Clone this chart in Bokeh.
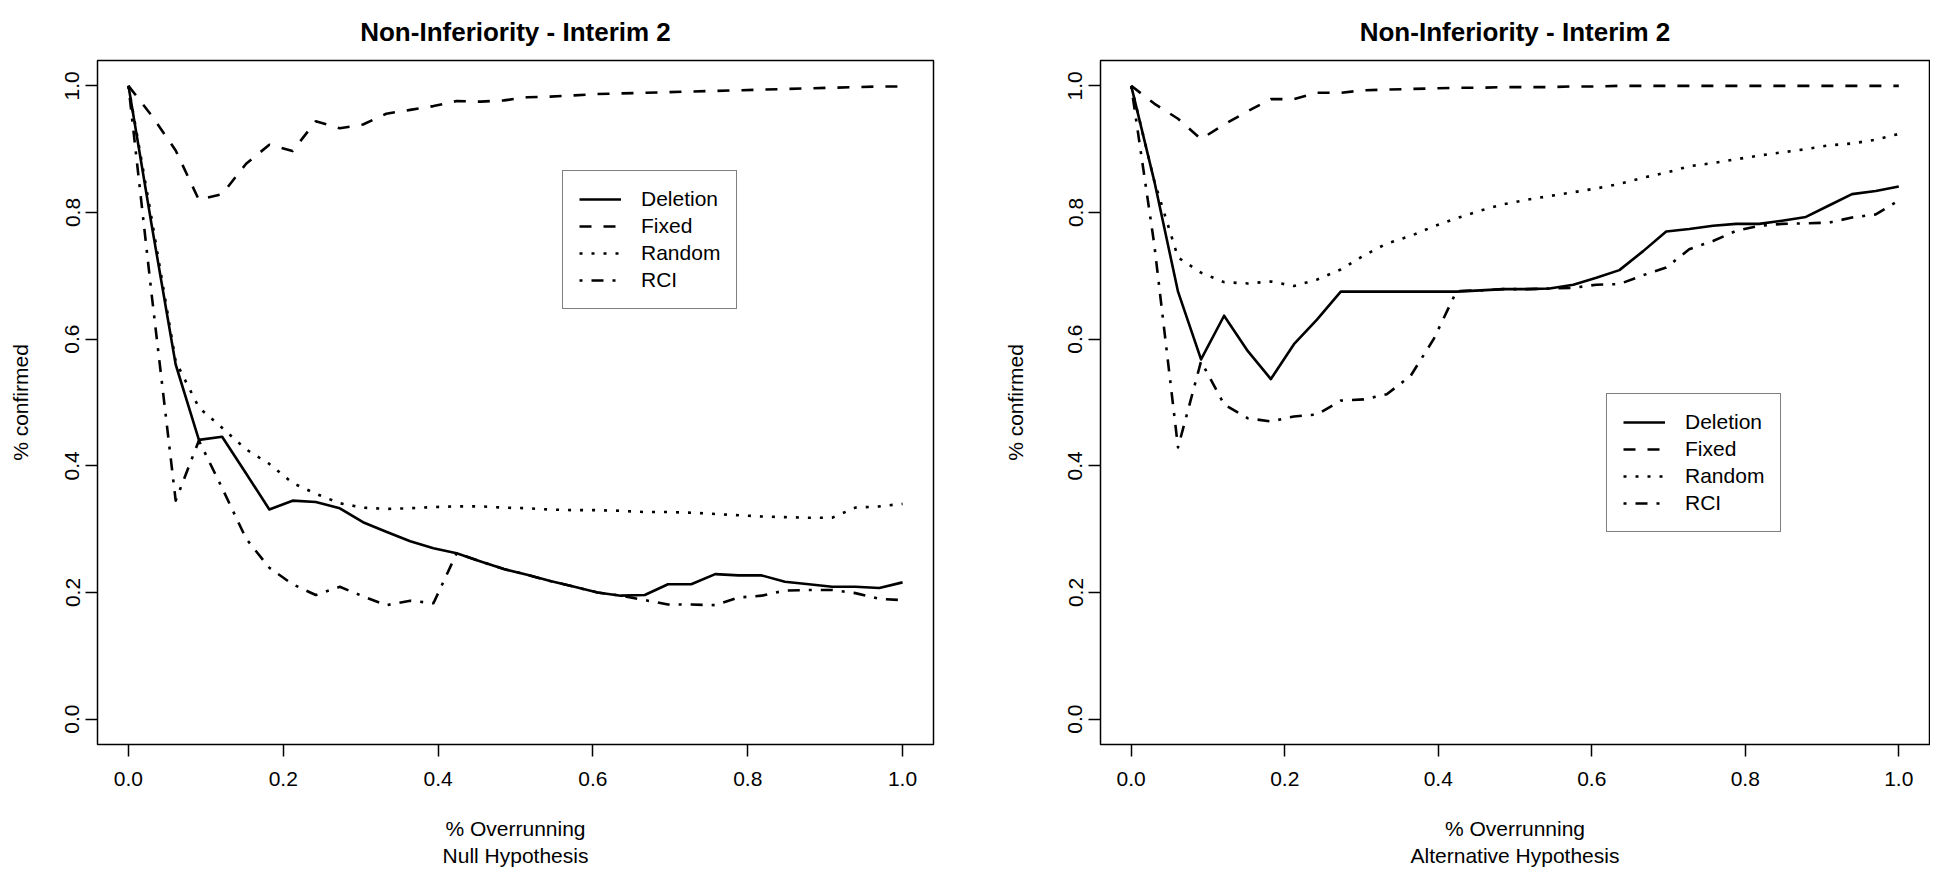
from bokeh.plotting import figure
from bokeh.layouts import row
from bokeh.models import Range1d, FixedTicker, PrintfTickFormatter
from bokeh.embed import file_html
from bokeh.resources import INLINE

# ---------------- data ----------------
title_text = "Non-Inferiority - Interim 2"
series_names = ["Deletion", "Fixed", "Random", "RCI"]
x_ticks = [0.0, 0.2, 0.4, 0.6, 0.8, 1.0]
y_ticks = [0.0, 0.2, 0.4, 0.6, 0.8, 1.0]

overrun = [0.000, 0.030, 0.061, 0.091, 0.121, 0.152, 0.182, 0.212, 0.242, 0.273,
           0.303, 0.333, 0.364, 0.394, 0.424, 0.455, 0.485, 0.515, 0.545, 0.576,
           0.606, 0.636, 0.667, 0.697, 0.727, 0.758, 0.788, 0.818, 0.848, 0.879,
           0.909, 0.939, 0.970, 1.000]

# Null hypothesis (left panel)
deletion_null = [1.000, 0.780, 0.560, 0.441, 0.446, 0.388, 0.331, 0.345, 0.343, 0.333,
                 0.311, 0.296, 0.281, 0.270, 0.262, 0.249, 0.237, 0.228, 0.218, 0.209,
                 0.200, 0.195, 0.196, 0.213, 0.213, 0.229, 0.227, 0.227, 0.217, 0.213,
                 0.209, 0.209, 0.207, 0.216]
fixed_null = [1.000, 0.953, 0.898, 0.820, 0.829, 0.877, 0.907, 0.897, 0.944, 0.933,
              0.939, 0.956, 0.962, 0.968, 0.976, 0.975, 0.977, 0.982, 0.983, 0.985,
              0.987, 0.988, 0.989, 0.990, 0.991, 0.992, 0.993, 0.994, 0.995, 0.996,
              0.997, 0.998, 0.999, 0.999]
random_null = [1.000, 0.790, 0.565, 0.492, 0.460, 0.426, 0.403, 0.373, 0.356, 0.341,
               0.334, 0.332, 0.333, 0.335, 0.336, 0.336, 0.334, 0.333, 0.331, 0.330,
               0.330, 0.329, 0.327, 0.327, 0.326, 0.324, 0.322, 0.320, 0.319, 0.318,
               0.318, 0.334, 0.336, 0.340]
rci_null = [1.000, 0.670, 0.345, 0.440, 0.365, 0.285, 0.239, 0.213, 0.196, 0.209,
            0.194, 0.180, 0.187, 0.183, 0.262, 0.249, 0.237, 0.228, 0.218, 0.209,
            0.200, 0.195, 0.188, 0.181, 0.181, 0.180, 0.192, 0.195, 0.203, 0.204,
            0.204, 0.199, 0.190, 0.188]

# Alternative hypothesis (right panel)
deletion_alt = [1.000, 0.850, 0.675, 0.568, 0.637, 0.581, 0.537, 0.592, 0.631, 0.675,
                0.675, 0.675, 0.675, 0.675, 0.675, 0.677, 0.679, 0.679, 0.680, 0.686,
                0.697, 0.709, 0.739, 0.770, 0.774, 0.779, 0.782, 0.782, 0.787, 0.793,
                0.811, 0.829, 0.834, 0.841]
fixed_alt = [1.000, 0.972, 0.948, 0.916, 0.939, 0.960, 0.979, 0.979, 0.989, 0.989,
             0.993, 0.994, 0.995, 0.996, 0.997, 0.997, 0.998, 0.998, 0.998, 0.999,
             0.999, 1.000, 1.000, 1.000, 1.000, 1.000, 1.000, 1.000, 1.000, 1.000,
             1.000, 1.000, 1.000, 1.000]
random_alt = [1.000, 0.850, 0.729, 0.705, 0.690, 0.688, 0.691, 0.684, 0.694, 0.710,
              0.732, 0.751, 0.763, 0.778, 0.791, 0.803, 0.813, 0.820, 0.826, 0.832,
              0.838, 0.845, 0.855, 0.863, 0.873, 0.878, 0.884, 0.890, 0.895, 0.900,
              0.906, 0.909, 0.915, 0.924]
rci_alt = [1.000, 0.750, 0.429, 0.565, 0.497, 0.475, 0.470, 0.478, 0.481, 0.503,
           0.505, 0.513, 0.542, 0.600, 0.676, 0.677, 0.679, 0.679, 0.680, 0.681,
           0.686, 0.687, 0.701, 0.713, 0.742, 0.755, 0.771, 0.779, 0.782, 0.783,
           0.784, 0.792, 0.797, 0.819]

# ---------------- styling ----------------
FONT = "Liberation Sans"
TXT = "21px"
DASHES = ["solid", "12 12", "3 9", "3 9 12 9"]
LW = 2.6


def make_panel(width, mbl, mbr, ylab_standoff, xlabel, series, legend_loc):
    p = figure(width=width, height=873, output_backend="svg", toolbar_location=None,
               x_range=Range1d(-0.04, 1.04), y_range=Range1d(-0.04, 1.04),
               min_border_left=mbl, min_border_right=mbr,
               min_border_top=59, min_border_bottom=129,
               title=title_text)
    p.background_fill_color = "white"
    p.border_fill_color = "white"
    p.outline_line_color = "black"
    p.outline_line_width = 1.5
    p.xgrid.visible = False
    p.ygrid.visible = False

    p.title.text_font = FONT
    p.title.text_font_size = "26px"
    p.title.text_font_style = "bold"
    p.title.text_color = "black"
    p.title.align = "center"
    p.title.standoff = 28

    for ax in (p.xaxis[0], p.yaxis[0]):
        ax.major_tick_out = 12
        ax.major_tick_in = 0
        ax.minor_tick_out = 0
        ax.minor_tick_in = 0
        ax.major_tick_line_width = 1.5
        ax.major_tick_line_color = "black"
        ax.axis_line_color = None
        ax.formatter = PrintfTickFormatter(format="%.1f")
        ax.major_label_text_font = FONT
        ax.major_label_text_font_size = TXT
        ax.major_label_text_color = "black"
        ax.axis_label_text_font = FONT
        ax.axis_label_text_font_size = TXT
        ax.axis_label_text_font_style = "normal"
        ax.axis_label_text_color = "black"

    p.xaxis[0].ticker = FixedTicker(ticks=x_ticks)
    p.xaxis[0].major_label_standoff = 15
    p.xaxis[0].axis_label = xlabel
    p.xaxis[0].axis_label_standoff = 28

    p.yaxis[0].ticker = FixedTicker(ticks=y_ticks)
    p.yaxis[0].major_label_orientation = "vertical"
    p.yaxis[0].major_label_standoff = 6
    p.yaxis[0].axis_label = "% confirmed"
    p.yaxis[0].axis_label_standoff = ylab_standoff

    for name, ys, dash in zip(series_names, series, DASHES):
        p.line(overrun, ys, line_color="black", line_width=LW, line_dash=dash,
               line_join="round", legend_label=name)

    lg = p.legend[0]
    lg.location = legend_loc
    lg.border_line_color = "black"
    lg.border_line_width = 1.5
    lg.background_fill_color = "white"
    lg.background_fill_alpha = 1.0
    lg.label_text_font = FONT
    lg.label_text_font_size = TXT
    lg.label_text_color = "black"
    lg.glyph_width = 42
    lg.glyph_height = 24
    lg.label_height = 24
    lg.spacing = 3
    lg.padding = 16
    lg.label_standoff = 20
    lg.margin = 0
    return p


p1 = make_panel(995, 97, 62, 31, "% Overrunning\nNull Hypothesis",
                [deletion_null, fixed_null, random_null, rci_null], (465, 435))
p2 = make_panel(935, 105, 1, 39, "% Overrunning\nAlternative Hypothesis",
                [deletion_alt, fixed_alt, random_alt, rci_alt], (506, 212))

layout = row(p1, p2)
open("out.html", "w").write(file_html(layout, INLINE))
